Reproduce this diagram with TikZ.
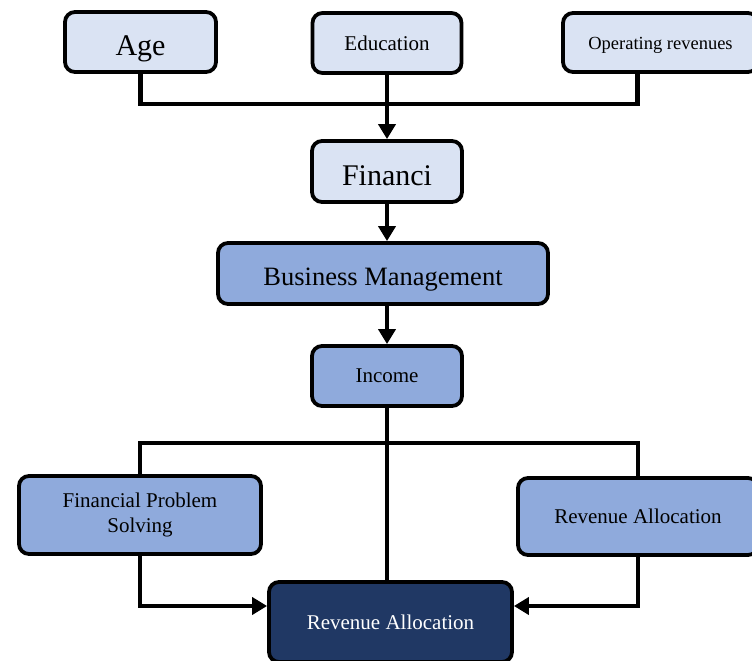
\documentclass[tikz,border=0pt]{standalone}
\usepackage{fontspec}
\setmainfont{Liberation Serif}
\usetikzlibrary{arrows.meta}

\definecolor{boxlight}{HTML}{DAE3F3}
\definecolor{boxmid}{HTML}{8FAADC}
\definecolor{boxdark}{HTML}{203864}

\tikzset{
  flowbox/.style={
    draw=black,
    line width=3.8pt,
    rounded corners=10pt,
    align=center,
    inner sep=2pt
  },
  link/.style={line width=4.2pt, draw=black},
  linkarrow/.style={link, -{Triangle[length=15pt,width=17pt]}}
}

\newcommand{\fs}[1]{\fontsize{#1}{#1}\selectfont}

\begin{document}
\begin{tikzpicture}[x=1pt,y=1pt]
  \useasboundingbox (0,0) rectangle (752,-661);

  % Top row of inputs
  \node[flowbox, fill=boxlight, minimum width=151pt, minimum height=60pt, font=\fs{30},
        text height=27pt, text depth=0pt]
    (age) at (140.5,-42) {Age};
  \node[flowbox, fill=boxlight, minimum width=149pt, minimum height=60pt, font=\fs{21}]
    (edu) at (387,-43) {Education};
  \node[flowbox, fill=boxlight, minimum width=195pt, minimum height=59pt, font=\fs{18.5},
        text height=14.5pt, text depth=0pt]
    (oprev) at (660.5,-42.5) {Operating revenues};

  % Middle chain
  \node[flowbox, fill=boxlight, minimum width=150pt, minimum height=61pt, font=\fs{30},
        text height=28.5pt, text depth=0pt]
    (fin) at (387,-171.5) {Financi};
  \node[flowbox, fill=boxmid, minimum width=330pt, minimum height=61pt, font=\fs{26.5},
        text height=24pt, text depth=0pt]
    (bm) at (383,-273.5) {Business Management};
  \node[flowbox, fill=boxmid, minimum width=150pt, minimum height=60pt, font=\fs{21}]
    (inc) at (387,-376) {Income};

  % Lower row
  \node[flowbox, fill=boxmid, minimum width=242pt, minimum height=78pt, font=\fs{21}]
    (fps) at (140,-515) {Financial Problem\\[4pt]Solving};
  \node[flowbox, fill=boxmid, minimum width=240pt, minimum height=77pt, font=\fs{21}]
    (ralloc) at (638,-516.5) {Revenue Allocation};
  \node[flowbox, fill=boxdark, text=white, minimum width=243pt, minimum height=80pt, font=\fs{21}]
    (rfinal) at (390.5,-622) {Revenue Allocation};

  % Junction points
  \coordinate (bus) at (387,-104);
  \coordinate (split) at (387,-443);

  % Inputs merge into Financi
  \draw[link] (age.south) |- (bus) -| ([xshift=-23pt]oprev.south);
  \draw[linkarrow] (edu.south) -- (fin.north);

  % Down the chain
  \draw[linkarrow] (fin.south) -- (fin.south |- bm.north);
  \draw[linkarrow] (inc.north |- bm.south) -- (inc.north);

  % Income splits out
  \draw[link] (inc.south) -- (inc.south |- rfinal.north);
  \draw[link] (fps.north) |- (split) -| (ralloc.north);

  % Side boxes feed the final box
  \draw[linkarrow] (fps.south) |- ([yshift=16pt]rfinal.west);
  \draw[linkarrow] (ralloc.south) |- ([yshift=16pt]rfinal.east);
\end{tikzpicture}
\end{document}
